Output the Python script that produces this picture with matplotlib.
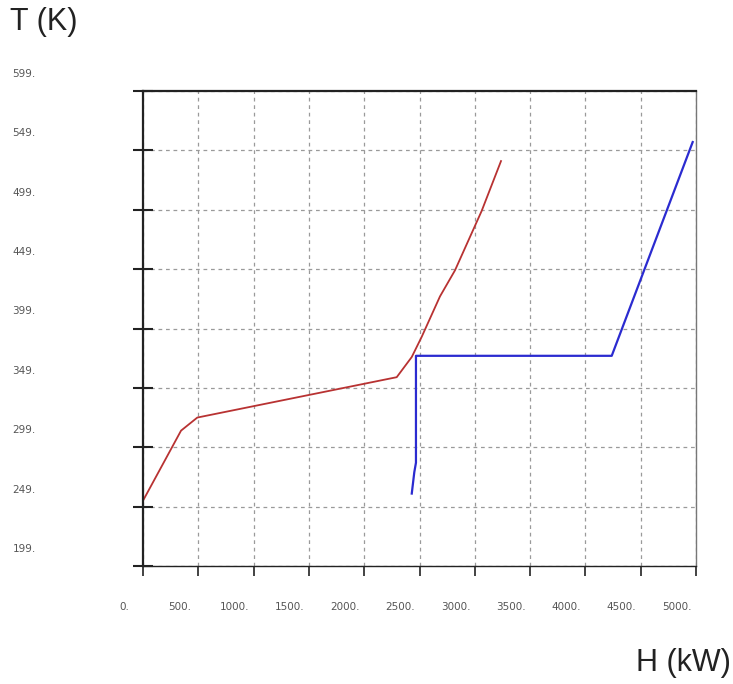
import numpy as np
import matplotlib
matplotlib.use("Agg")
import matplotlib.pyplot as plt
from matplotlib.transforms import ScaledTranslation

# composite curves
hot_h = [0, 0, 344, 491, 2294, 2430, 2520, 2685, 2821, 3062, 3237]
hot_t = [232, 254, 313, 324, 358, 375, 392, 426, 448, 498, 540]

cold_h = [2430, 2453, 2468, 2468, 4238, 4970]
cold_t = [260, 278, 286, 376, 376, 556]

x_ticks = [0, 500, 1000, 1500, 2000, 2500, 3000, 3500, 4000, 4500, 5000]
y_ticks = [199, 249, 299, 349, 399, 449, 499, 549, 599]

dpi = 100
fig = plt.figure(figsize=(7.33, 6.84), dpi=dpi)
ax = fig.add_axes([143/733, 118/684, 553/733, 475/684])

ax.plot(hot_h, hot_t, color="#b83232", lw=1.3)
ax.plot(cold_h, cold_t, color="#2b2bd0", lw=1.6)

ax.set_xlim(0, 5000)
ax.set_ylim(199, 599)
ax.set_xticks(x_ticks)
ax.set_yticks(y_ticks)
ax.set_xticklabels([f"{v}." for v in x_ticks])
ax.set_yticklabels([f"{v}." for v in y_ticks])

ax.grid(True, color="#9a9a9a", linestyle=(0, (3, 3)), lw=0.9)

ax.spines["left"].set_linewidth(1.6)
ax.spines["left"].set_color("#222222")
ax.spines["bottom"].set_linewidth(1.0)
ax.spines["bottom"].set_color("#222222")
ax.spines["top"].set_linewidth(1.6)
ax.spines["top"].set_color("#222222")
ax.spines["right"].set_linewidth(1.0)
ax.spines["right"].set_color("#777777")

ax.tick_params(axis="y", direction="inout", length=15, width=1.5,
               color="#222222", pad=72, labelsize=7.5, labelcolor="#555555")
ax.tick_params(axis="x", direction="out", length=7, width=1.2,
               color="#222222", pad=19, labelsize=7.5, labelcolor="#555555")

# labels sit above / left of their ticks like in the original
for lab in ax.get_yticklabels():
    lab.set_horizontalalignment("left")
    lab.set_transform(lab.get_transform() + ScaledTranslation(-20/dpi, 18/dpi, fig.dpi_scale_trans))
for lab in ax.get_xticklabels():
    lab.set_transform(lab.get_transform() + ScaledTranslation(-19/dpi, 0, fig.dpi_scale_trans))

fig.text(10/733, 1 - 22/684, "T (K)", fontsize=22, family="Liberation Sans",
         color="#222222", va="center", ha="left")
fig.text(731/733, 1 - 663/684, "H (kW)", fontsize=22, family="Liberation Sans",
         color="#222222", va="center", ha="right")

fig.savefig("out.png", dpi=dpi)
